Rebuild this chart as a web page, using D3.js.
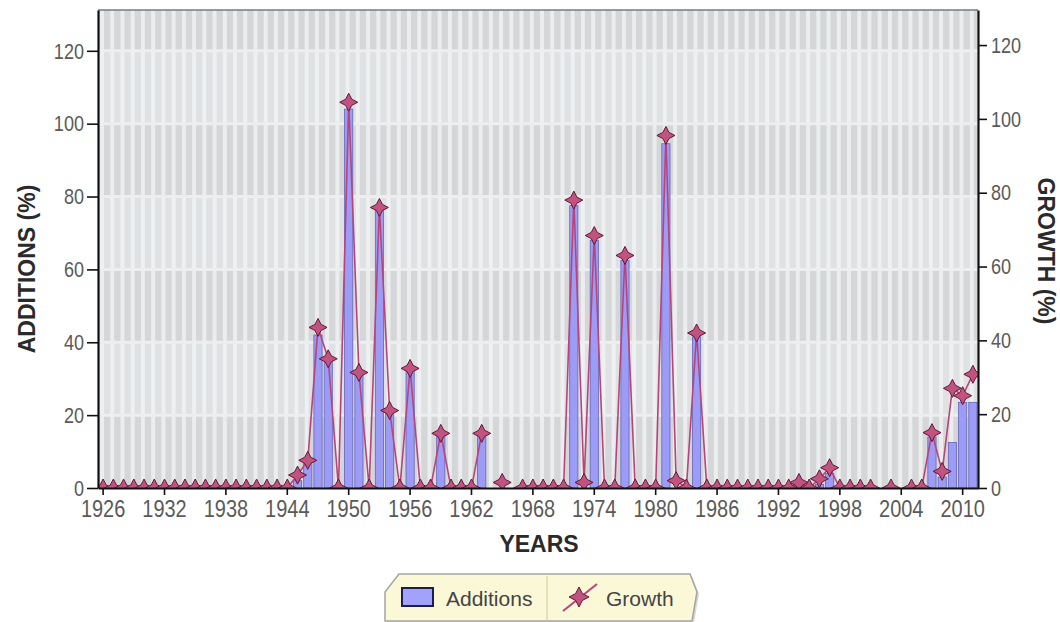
<!DOCTYPE html>
<html>
<head>
<meta charset="utf-8">
<script src="https://cdn.jsdelivr.net/npm/d3@7"></script>
<style>
  html, body { margin: 0; padding: 0; background: #ffffff; }
  svg { display: block; font-family: "Liberation Sans", Arial, Helvetica, sans-serif; }
</style>
</head>
<body>
<svg id="chart" width="1060" height="622"></svg>
<script>
// ---------- DATA ----------
const years = d3.range(1926, 2012);
const xTickYears = [1926, 1932, 1938, 1944, 1950, 1956, 1962, 1968, 1974, 1980, 1986, 1992, 1998, 2004, 2010];
const yTicks = [0, 20, 40, 60, 80, 100, 120];

const additions = [
  // 1926-1935
  0,0,0,0,0,0,0,0,0,0,
  // 1936-1945
  0,0,0,0,0,0,0,0,0,2,
  // 1946-1955
  7,42,35.5,0,104,31.5,0,77,21,0,
  // 1956-1965
  32,0,0,15,0,0,0,14.5,0,0,
  // 1966-1975
  0,0,0,0,0,0,77.5,0,68,0,
  // 1976-1985
  0,62.5,0,0,0,94.5,0,0,41.5,0,
  // 1986-1995
  0,0,0,0,0,0,0,0,0,0,
  // 1996-2005
  1,4,0,0,0,0,0,0,0,0,
  // 2006-2011
  0,14,3,12.5,23.5,23.5
];

const growth = [
  // 1926-1935
  0,0,0,0,0,0,0,0,0,0,
  // 1936-1945
  0,0,0,0,0,0,0,0,0,3.5,
  // 1946-1955
  7.5,43.5,35,0,104.5,31.3,0,76,21,0,
  // 1956-1965
  32.4,0,0,14.8,0,0,0,14.8,null,1.5,
  // 1966-1975
  null,0,0,0,0,0,78,1.5,68.4,0,
  // 1976-1985
  0,63,0,0,0,95.5,2,0,42,0,
  // 1986-1995
  0,0,0,0,0,0,0,0,1.5,0,
  // 1996-2005
  2.5,5.5,0,0,0,0,null,0,null,0,
  // 2006-2011
  0,15,4.5,27,25,30.8
];

const seriesNames = ["Additions", "Growth"];
const axisTitles = { left: "ADDITIONS (%)", right: "GROWTH (%)", bottom: "YEARS" };

// ---------- LAYOUT ----------
const plot = { left: 98, right: 978, top: 10, bottom: 488 };
const svg = d3.select("#chart");

const x = d3.scaleBand().domain(years).range([plot.left, plot.right]).paddingInner(0.2).paddingOuter(0.1);
const yL = d3.scaleLinear().domain([0, 131.2]).range([plot.bottom, plot.top]);
const yR = d3.scaleLinear().domain([0, 129.5]).range([plot.bottom, plot.top]);
const cx = yr => x(yr) + x.bandwidth() / 2;

// clip
svg.append("defs").append("clipPath").attr("id", "plotClip")
  .append("rect").attr("x", plot.left).attr("y", plot.top)
  .attr("width", plot.right - plot.left).attr("height", plot.bottom - plot.top);

// ---------- BACKGROUND ----------
const bg = svg.append("g");
bg.append("rect").attr("x", plot.left).attr("y", plot.top)
  .attr("width", plot.right - plot.left).attr("height", plot.bottom - plot.top)
  .attr("fill", "#d6d7d8");

// alternating horizontal bands
const bandEdges = [0, 20, 40, 60, 80, 100, 120, 131.2];
for (let i = 0; i < bandEdges.length - 1; i++) {
  const light = (i % 2 === 1) ? 1 : 0;
  bg.append("rect")
    .attr("x", plot.left).attr("width", plot.right - plot.left)
    .attr("y", yL(bandEdges[i + 1])).attr("height", yL(bandEdges[i]) - yL(bandEdges[i + 1]))
    .attr("fill", light ? "#dfe1e3" : "#d5d6d7");
}

// vertical light stripes, one per year
bg.append("g").selectAll("rect").data(years).join("rect")
  .attr("x", d => x(d) + x.bandwidth() * 0.12)
  .attr("width", 4)
  .attr("y", plot.top).attr("height", plot.bottom - plot.top)
  .attr("fill", "#f4f6f8").attr("opacity", 0.7);

// horizontal grid lines
bg.append("g").selectAll("line").data(yTicks.filter(d => d > 0)).join("line")
  .attr("x1", plot.left).attr("x2", plot.right)
  .attr("y1", d => yL(d)).attr("y2", d => yL(d))
  .attr("stroke", "#eceef0").attr("stroke-width", 3);

// ---------- BARS ----------
const barData = years.map((yr, i) => ({ yr, v: additions[i] })).filter(d => d.v > 0);
svg.append("g").attr("clip-path", "url(#plotClip)")
  .selectAll("rect").data(barData).join("rect")
  .attr("x", d => x(d.yr))
  .attr("width", x.bandwidth())
  .attr("y", d => yL(d.v))
  .attr("height", d => yL(0) - yL(d.v))
  .attr("fill", "#9c9cf6")
  .attr("stroke", "#6464b8")
  .attr("stroke-width", 0.8);

// ---------- LINE ----------
const lineData = years.map((yr, i) => ({ yr, v: growth[i] }));
const line = d3.line().defined(d => d.v != null).x(d => cx(d.yr)).y(d => yR(d.v));
const lineG = svg.append("g").attr("clip-path", "url(#plotClip)");
lineG.append("path").datum(lineData)
  .attr("d", line)
  .attr("fill", "none")
  .attr("stroke", "#b8457a")
  .attr("stroke-width", 1.6)
  .attr("stroke-linejoin", "round");

// 4-pointed star symbol (concave sides)
const star4 = {
  draw(ctx, size) {
    const R = Math.sqrt(size) / 2;
    const r = R * 0.48;
    for (let k = 0; k < 8; k++) {
      const a = -Math.PI / 2 + k * Math.PI / 4;
      const rad = (k % 2 === 0) ? R : r;
      const px = rad * Math.cos(a), py = rad * Math.sin(a);
      if (k === 0) ctx.moveTo(px, py); else ctx.lineTo(px, py);
    }
    ctx.closePath();
  }
};
const starPath = d3.symbol().type(star4).size(18 * 18);

lineG.selectAll("path.mk").data(lineData.filter(d => d.v != null)).join("path")
  .attr("class", "mk")
  .attr("d", starPath)
  .attr("transform", d => `translate(${cx(d.yr)},${yR(d.v)})`)
  .attr("fill", "#c2527f")
  .attr("stroke", "#5e1a38")
  .attr("stroke-width", 1);

// ---------- FRAME ----------
svg.append("line").attr("x1", plot.left).attr("x2", plot.right)
  .attr("y1", plot.top).attr("y2", plot.top)
  .attr("stroke", "#7a7a7a").attr("stroke-width", 1.5);

// ---------- AXES ----------
const tickColor = "#5a5a5a";

const gL = svg.append("g").attr("transform", `translate(${plot.left},0)`)
  .call(d3.axisLeft(yL).tickValues(yTicks).tickSize(11).tickPadding(3).tickSizeOuter(0));
const gR = svg.append("g").attr("transform", `translate(${plot.right},0)`)
  .call(d3.axisRight(yR).tickValues(yTicks).tickSize(9).tickPadding(4).tickSizeOuter(0));
const gB = svg.append("g").attr("transform", `translate(0,${plot.bottom})`)
  .call(d3.axisBottom(x).tickValues(xTickYears).tickSize(7).tickPadding(6).tickSizeOuter(0));

[gL, gR, gB].forEach(g => {
  g.select(".domain").attr("stroke", "#111").attr("stroke-width", 2.2);
  g.selectAll(".tick line").attr("stroke", "#111").attr("stroke-width", 1.6);
  g.selectAll(".tick text").attr("fill", tickColor)
    .attr("font-family", "'Liberation Sans', Arial, sans-serif");
});
// slightly tall, narrow digits like the reference
gL.selectAll(".tick text").attr("font-size", 21)
  .attr("x", null).attr("transform", "translate(-14,0) scale(0.86,1.08)");
gR.selectAll(".tick text").attr("font-size", 21)
  .attr("x", null).attr("transform", "translate(13,0) scale(0.86,1.08)");
gB.selectAll(".tick text").attr("font-size", 21)
  .attr("y", null).attr("transform", "translate(0,13) scale(0.95,1.1)");

// axis titles
svg.append("text")
  .attr("transform", `translate(27,${(plot.top + plot.bottom) / 2 + 20}) rotate(-90)`)
  .attr("text-anchor", "middle").attr("dominant-baseline", "central")
  .attr("font-size", 23).attr("font-weight", "bold").attr("fill", "#2a2a2a")
  .text(axisTitles.left);

svg.append("text")
  .attr("transform", `translate(1046,${251}) rotate(90)`)
  .attr("text-anchor", "middle").attr("dominant-baseline", "central")
  .attr("font-size", 23).attr("font-weight", "bold").attr("fill", "#2a2a2a")
  .text(axisTitles.right);

svg.append("text")
  .attr("x", 539).attr("y", 552)
  .attr("text-anchor", "middle")
  .attr("font-size", 23).attr("font-weight", "bold").attr("fill", "#2a2a2a")
  .text(axisTitles.bottom);

// ---------- LEGEND ----------
const lg = svg.append("g");
const legShape = "M399,574 H690 L697,592 L692,621 H385 V592 Z";
lg.append("path").attr("d", legShape).attr("transform", "translate(2,2)")
  .attr("fill", "#d8d8d8");
lg.append("path").attr("d", legShape)
  .attr("fill", "#fbf8d8").attr("stroke", "#a5a5a0").attr("stroke-width", 1.5);
lg.append("line").attr("x1", 547).attr("x2", 547).attr("y1", 576).attr("y2", 620)
  .attr("stroke", "#d6d2a8").attr("stroke-width", 1.2);

lg.append("rect").attr("x", 402).attr("y", 588).attr("width", 31).attr("height", 18)
  .attr("fill", "#a2a2fa").attr("stroke", "#1e1e4e").attr("stroke-width", 2);
lg.append("text").attr("x", 446).attr("y", 606)
  .attr("font-size", 21).attr("fill", "#444").text(seriesNames[0]);

lg.append("line").attr("x1", 563).attr("y1", 611).attr("x2", 597).attr("y2", 584)
  .attr("stroke", "#b8457a").attr("stroke-width", 2);
lg.append("path").attr("d", d3.symbol().type(star4).size(20 * 20))
  .attr("transform", "translate(579,597)")
  .attr("fill", "#c2527f").attr("stroke", "#5e1a38").attr("stroke-width", 1);
lg.append("text").attr("x", 606).attr("y", 606)
  .attr("font-size", 21).attr("fill", "#444").text(seriesNames[1]);
</script>
</body>
</html>
